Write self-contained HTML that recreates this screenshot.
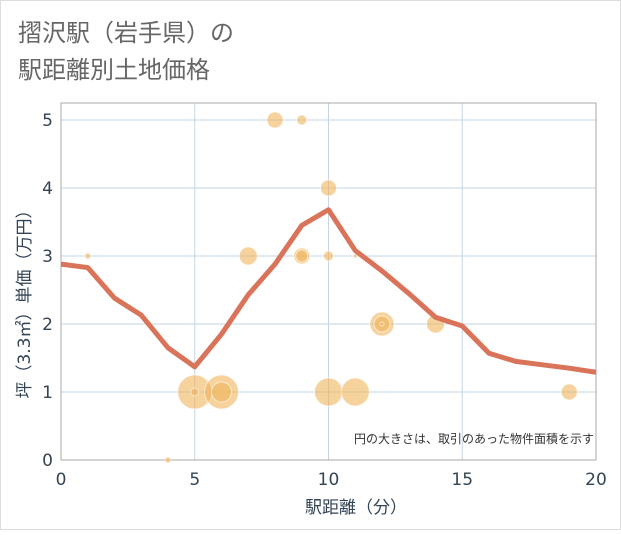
<!DOCTYPE html>
<html><head><meta charset="utf-8"><style>
body{margin:0;background:#fff}
svg text{font-family:"DejaVu Sans","Noto Sans CJK JP",sans-serif}
</style></head><body>
<svg id="c" width="621" height="530" xmlns="http://www.w3.org/2000/svg">
<rect x="0.5" y="0.5" width="620" height="529" fill="#fff" stroke="#ddd"/>
<text x="18" y="41" font-size="24" fill="#666">摺沢駅（岩手県）の</text>
<text x="18" y="78" font-size="24" fill="#666">駅距離別土地価格</text>
<g id="grid"></g>
<rect x="61" y="103" width="535" height="357" fill="none" stroke="#aaa"/>
<g id="bubbles"></g>
<g id="line"></g>
<g id="axes"></g>
<text x="594" y="443" font-size="12" fill="#333" text-anchor="end">円の大きさは、取引のあった物件面積を示す</text>
<text x="356" y="513" font-size="17" fill="#345" text-anchor="middle">駅距離（分）</text>
<text transform="translate(30,300) rotate(-90)" font-size="17" fill="#345" text-anchor="middle">坪（3.3㎡）単価（万円）</text>
</svg>
<script>
const lineX=[0,1,2,3,4,5,6,7,8,9,10,11,12,13,14,15,16,17,18,19,20];
const lineY=[2.88,2.83,2.38,2.13,1.65,1.37,1.85,2.43,2.88,3.45,3.68,3.08,2.78,2.45,2.1,1.97,1.57,1.45,1.4,1.35,1.29];
const bubX=[1,4,5,5,6,6,7,8,9,9,9,10,10,10,11,11,12,12,12,14,19];
const bubY=[3,0,1,1,1,1,3,5,5,3,3,4,3,1,1,3,2,2,2,2,1];
const bubR=[3,3,17,4,17,10,9,8,5,8,6,8,5,14,14,2,12,8,2,9,8];
const xTicks=[0,5,10,15,20];
const yTicks=[0,1,2,3,4,5];
const NS="http://www.w3.org/2000/svg";
const X=v=>61+v*535/20, Y=v=>460-v*68;
function mk(t,a,p){const e=document.createElementNS(NS,t);for(const k in a)e.setAttribute(k,a[k]);p.appendChild(e);return e;}
const g=document.getElementById('grid'),ax=document.getElementById('axes');
xTicks.forEach(v=>{const l=mk('line',{x1:X(v),x2:X(v),y1:103,y2:460,stroke:'#c5d5e3'},g);


const t=mk('text',{x:X(v),y:485,'font-size':17,fill:'#345','text-anchor':'middle'},ax);t.textContent=v;

});
yTicks.forEach(v=>{const l=mk('line',{x1:61,x2:596,y1:Y(v),y2:Y(v),stroke:'#c5d5e3'},g);


const t=mk('text',{x:53,y:Y(v)+6,'font-size':17,fill:'#345','text-anchor':'end'},ax);t.textContent=v;

});
const bg=document.getElementById('bubbles');
bubX.forEach((v,i)=>{const c=mk('circle',{cx:X(v),cy:Y(bubY[i]),r:bubR[i],fill:'rgba(240,180,90,0.6)',stroke:'#fff','stroke-opacity':0.6,'stroke-width':1},bg);

});
const p=mk('polyline',{points:lineX.map((v,i)=>X(v)+','+Y(lineY[i])).join(' '),fill:'none',stroke:'#d9735a','stroke-width':5,'stroke-linejoin':'round'},document.getElementById('line'));


</script>
</body></html>
